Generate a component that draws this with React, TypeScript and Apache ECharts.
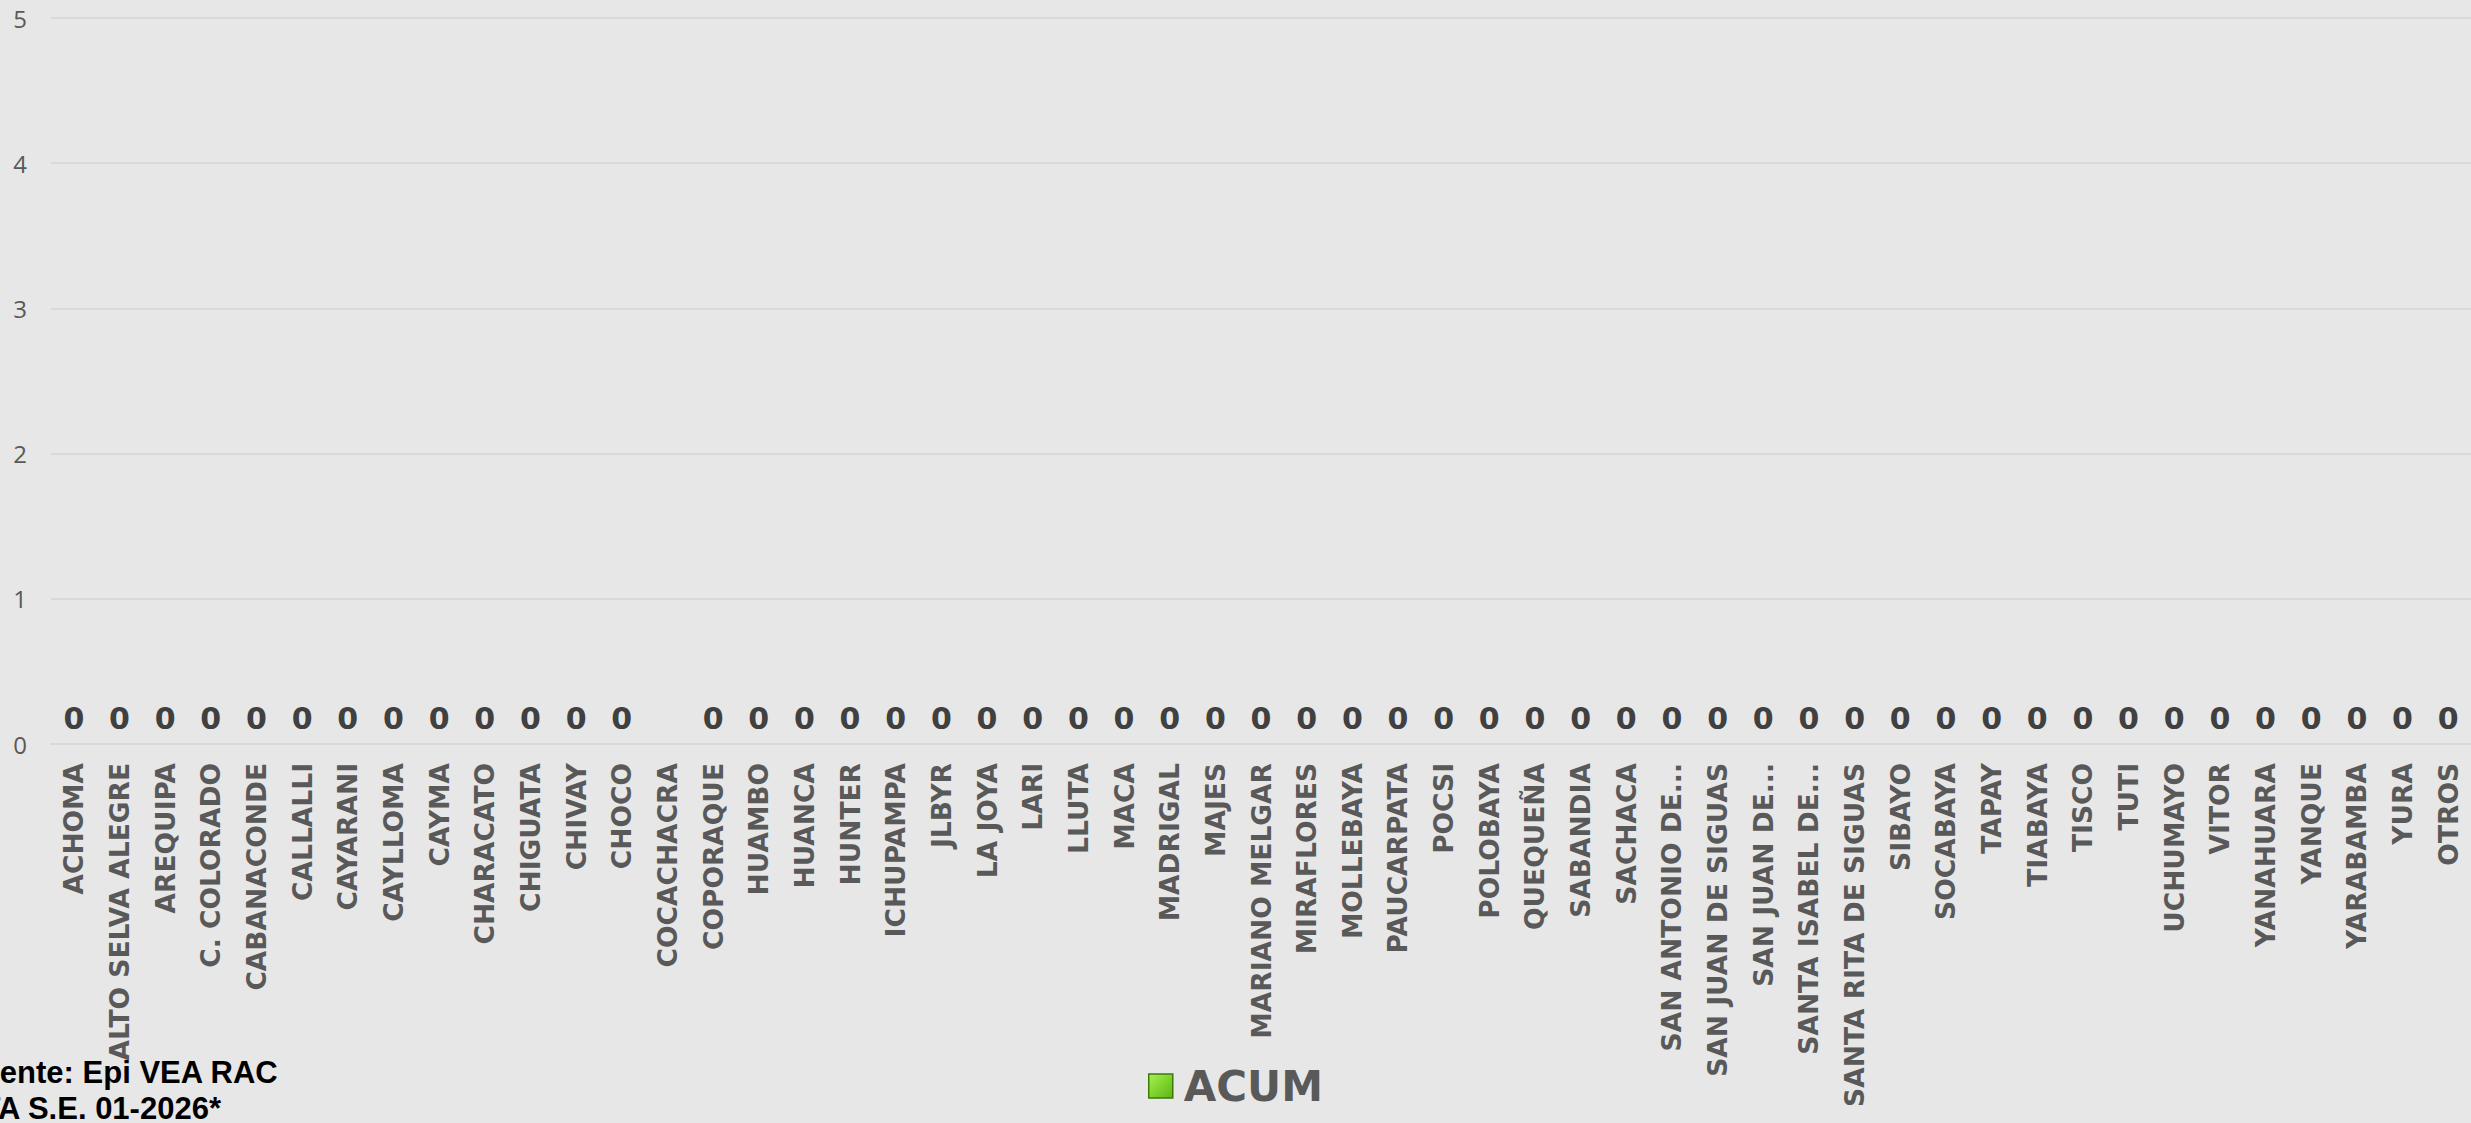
import React, { useEffect, useRef } from "react";
import * as echarts from "echarts";

const categories: string[] = [
  "ACHOMA", "ALTO SELVA ALEGRE", "AREQUIPA", "C. COLORADO", "CABANACONDE", "CALLALLI",
  "CAYARANI", "CAYLLOMA", "CAYMA", "CHARACATO", "CHIGUATA", "CHIVAY", "CHOCO",
  "COCACHACRA", "COPORAQUE", "HUAMBO", "HUANCA", "HUNTER", "ICHUPAMPA", "JLBYR",
  "LA JOYA", "LARI", "LLUTA", "MACA", "MADRIGAL", "MAJES", "MARIANO MELGAR",
  "MIRAFLORES", "MOLLEBAYA", "PAUCARPATA", "POCSI", "POLOBAYA", "QUEQUEÑA",
  "SABANDIA", "SACHACA", "SAN ANTONIO DE...", "SAN JUAN DE SIGUAS", "SAN JUAN DE...",
  "SANTA ISABEL DE...", "SANTA RITA DE SIGUAS", "SIBAYO", "SOCABAYA", "TAPAY",
  "TIABAYA", "TISCO", "TUTI", "UCHUMAYO", "VITOR", "YANAHUARA", "YANQUE",
  "YARABAMBA", "YURA", "OTROS",
];

const acumValues: (number | null)[] = [
  0, 0, 0, 0, 0, 0, 0, 0, 0, 0, 0, 0, 0,
  null, 0, 0, 0, 0, 0, 0, 0, 0, 0, 0, 0, 0, 0,
  0, 0, 0, 0, 0, 0, 0, 0, 0, 0, 0, 0, 0, 0, 0, 0,
  0, 0, 0, 0, 0, 0, 0, 0, 0, 0,
];

const yTicks = { min: 0, max: 5, interval: 1 };
const seriesName = "ACUM";
const footerLine1 = "Fuente: Epi VEA RAC";
const footerLine2 = "HASTA S.E. 01-2026*";

export default function App() {
  const ref = useRef<HTMLDivElement>(null);

  useEffect(() => {
    document.body.style.margin = "0";
    if (!ref.current) return;
    const chart = echarts.init(ref.current, undefined, { renderer: "svg" });
    const green = new echarts.graphic.LinearGradient(0, 0, 1, 1, [
      { offset: 0, color: "#a6f05a" },
      { offset: 0.5, color: "#7fd42c" },
      { offset: 1, color: "#5cb51a" },
    ]);
    chart.setOption({
      animation: false,
      backgroundColor: "#e7e7e7",
      grid: { left: 51, right: 0, top: 18, bottom: 379, containLabel: false },
      xAxis: {
        type: "category",
        data: categories,
        axisLine: { show: true, lineStyle: { color: "#d9d9d9", width: 2 } },
        axisTick: { show: false },
        axisLabel: {
          interval: 0,
          rotate: 90,
          margin: 19,
          color: "#595959",
          fontFamily: "DejaVu Sans",
          fontWeight: "bold",
          fontSize: 26.5,
        },
      },
      yAxis: {
        type: "value",
        min: yTicks.min,
        max: yTicks.max,
        interval: yTicks.interval,
        axisLine: { show: false },
        axisTick: { show: false },
        splitLine: { show: true, lineStyle: { color: "#d9d9d9", width: 2 } },
        axisLabel: {
          color: "#595959",
          fontFamily: "Open Sans",
          fontSize: 24,
          margin: 24,
        },
      },
      legend: {
        show: true,
        left: "center",
        top: 1060,
        icon: "rect",
        itemWidth: 24,
        itemHeight: 24,
        textStyle: {
          color: "#595959",
          fontFamily: "DejaVu Sans",
          fontWeight: "bold",
          fontSize: 42,
          padding: [0, 0, 0, 6],
        },
        data: [
          {
            name: seriesName,
            itemStyle: { color: green, borderColor: "#3d7a0a", borderWidth: 1.5 },
          },
        ],
      },
      series: [
        {
          name: seriesName,
          type: "bar",
          data: acumValues,
          barWidth: "60%",
          itemStyle: { color: green, borderWidth: 0 },
          label: {
            show: true,
            position: "top",
            distance: 11,
            color: "#404040",
            fontFamily: "DejaVu Sans",
            fontWeight: "bold",
            fontSize: 30,
          },
        },
      ],
      graphic: [
        {
          type: "text",
          x: -38,
          y: 1072,
          style: {
            text: footerLine1,
            fill: "#000000",
            verticalAlign: "middle",
            font: "bold 31px 'Liberation Sans', Arial, sans-serif",
          },
        },
        {
          type: "text",
          x: -84,
          y: 1108,
          style: {
            text: footerLine2,
            fill: "#000000",
            verticalAlign: "middle",
            font: "bold 31px 'Liberation Sans', Arial, sans-serif",
          },
        },
      ],
    });
    return () => chart.dispose();
  }, []);

  return <div ref={ref} style={{ width: 2471, height: 1123 }} />;
}
